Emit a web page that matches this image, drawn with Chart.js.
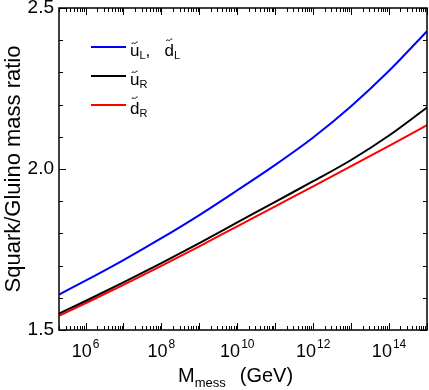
<!DOCTYPE html>
<html>
<head>
<meta charset="utf-8">
<script src="https://cdn.jsdelivr.net/npm/chart.js@4/dist/chart.umd.min.js"></script>
<style>
  html, body { margin: 0; padding: 0; background: #fff; }
  canvas { display: block; }
</style>
</head>
<body>
<canvas id="massChart" width="429" height="390"></canvas>
<script>
// messenger scale (GeV) and squark/gluino mass ratios
const mMess = [2e5, 1e6, 1e7, 1e8, 1e9, 1e10, 1e11, 1e12, 1e13, 1e14, 1e15]
const uLdL = [1.610, 1.653, 1.717, 1.785, 1.857, 1.934, 2.013, 2.098, 2.195, 2.305, 2.428]
const uR = [1.551, 1.590, 1.648, 1.708, 1.770, 1.834, 1.898, 1.962, 2.028, 2.104, 2.191]
const dR = [1.544, 1.583, 1.640, 1.699, 1.760, 1.822, 1.884, 1.946, 2.009, 2.072, 2.136]

const xLabelExps = [6, 8, 10, 12, 14]
const yLabels = [1.5, 2.0, 2.5]

const FONT = '"Liberation Sans", Arial, sans-serif'

const series = [
  { parts: [['u', 'L'], ['d', 'L']], data: uLdL, color: '#0000ff' },
  { parts: [['u', 'R']], data: uR, color: '#000000' },
  { parts: [['d', 'R']], data: dR, color: '#ff0000' }
]

function drawTildeText (ctx, x, base, letter, sub) {
  ctx.font = '17px ' + FONT
  ctx.textAlign = 'left'
  ctx.fillText(letter, x, base)
  const w = ctx.measureText(letter).width
  const topY = letter === 'd' ? base - 13 : base - 10
  // tilde
  ctx.save()
  ctx.lineWidth = 1
  ctx.beginPath()
  const cx = x + w / 2
  ctx.moveTo(cx - 3, topY - 2)
  ctx.bezierCurveTo(cx - 1.5, topY - 5, cx - 0.5, topY - 1, cx + 1, topY - 3)
  ctx.bezierCurveTo(cx + 2, topY - 4.5, cx + 2.5, topY - 4, cx + 3, topY - 4)
  ctx.stroke()
  ctx.restore()
  ctx.font = '11px ' + FONT
  ctx.fillText(sub, x + w, base + 3)
  return x + w + ctx.measureText(sub).width
}

const axesPlugin = {
  id: 'axes',
  afterDraw (chart) {
    const { ctx, chartArea: a, scales: { x, y } } = chart
    ctx.save()
    ctx.strokeStyle = '#000'
    ctx.fillStyle = '#000'

    // ticks on all four sides, pointing inward
    ctx.lineWidth = 1
    ctx.beginPath()
    for (let d = 5; d <= 15; d++) {
      for (let m = 1; m <= 9; m++) {
        const v = m * Math.pow(10, d)
        if (v < x.min * 0.999 || v > x.max * 1.001) continue
        const px = Math.round(x.getPixelForValue(v)) + 0.5
        const len = m === 1 ? 7 : 4
        ctx.moveTo(px, a.bottom); ctx.lineTo(px, a.bottom - len)
        ctx.moveTo(px, a.top); ctx.lineTo(px, a.top + len)
      }
    }
    for (let i = 0; i <= 10; i++) {
      const py = Math.round(y.getPixelForValue(1.5 + i * 0.1)) + 0.5
      const len = i % 5 === 0 ? 7 : 4
      ctx.moveTo(a.left, py); ctx.lineTo(a.left + len, py)
      ctx.moveTo(a.right, py); ctx.lineTo(a.right - len, py)
    }
    ctx.stroke()

    ctx.lineWidth = 1.5
    ctx.strokeRect(a.left, a.top, a.right - a.left, a.bottom - a.top)

    // y tick labels
    ctx.font = '19px ' + FONT
    ctx.textAlign = 'right'
    ctx.textBaseline = 'middle'
    yLabels.forEach((v) => {
      ctx.fillText(v.toFixed(1), a.left - 5, y.getPixelForValue(v))
    })

    // x tick labels 10^n
    ctx.textBaseline = 'alphabetic'
    ctx.textAlign = 'left'
    xLabelExps.forEach((e) => {
      const px = x.getPixelForValue(Math.pow(10, e))
      ctx.font = '18px ' + FONT
      const wb = ctx.measureText('10').width
      ctx.font = '12px ' + FONT
      const ws = ctx.measureText(String(e)).width
      const x0 = px - (wb + ws + 1) / 2
      ctx.font = '18px ' + FONT
      ctx.fillText('10', x0, 357)
      ctx.font = '12px ' + FONT
      ctx.fillText(String(e), x0 + wb + 1, 348)
    })

    // x axis title
    ctx.font = '20px ' + FONT
    ctx.fillText('M', 178, 382)
    let cx = 178 + ctx.measureText('M').width
    ctx.font = '13px ' + FONT
    ctx.fillText('mess', cx, 387)
    cx += ctx.measureText('mess').width + 14
    ctx.font = '20px ' + FONT
    ctx.fillText('(GeV)', cx, 382)

    // y axis title
    ctx.save()
    ctx.translate(20, (a.top + a.bottom) / 2)
    ctx.rotate(-Math.PI / 2)
    ctx.textAlign = 'center'
    ctx.font = '22px ' + FONT
    ctx.fillText('Squark/Gluino mass ratio', 0, 0)
    ctx.restore()

    // legend
    series.forEach((s, i) => {
      const ly = 47 + i * 29
      ctx.strokeStyle = s.color
      ctx.lineWidth = 2
      ctx.beginPath()
      ctx.moveTo(91, ly)
      ctx.lineTo(126, ly)
      ctx.stroke()
      ctx.strokeStyle = '#000'
      let tx = 130
      s.parts.forEach((p, j) => {
        tx = drawTildeText(ctx, tx, ly + 9, p[0], p[1])
        if (j < s.parts.length - 1) {
          ctx.font = '17px ' + FONT
          ctx.fillText(',', tx, ly + 9)
          tx += 19
        }
      })
    })
    ctx.restore()
  }
}

const ctx = document.getElementById('massChart').getContext('2d')

const massChart = new Chart(ctx, {
  type: 'line',
  data: {
    datasets: series.map((s) => ({
      data: mMess.map((m, i) => ({ x: m, y: s.data[i] })),
      borderColor: s.color,
      borderWidth: 2,
      pointRadius: 0,
      fill: false,
      cubicInterpolationMode: 'monotone'
    }))
  },
  options: {
    responsive: false,
    animation: false,
    devicePixelRatio: 1,
    layout: { padding: { left: 59, right: 2, top: 8, bottom: 60 } },
    scales: {
      x: { type: 'logarithmic', min: 2e5, max: 1e15, display: false },
      y: { type: 'linear', min: 1.5, max: 2.5, display: false }
    },
    plugins: {
      legend: { display: false },
      tooltip: { enabled: false }
    }
  },
  plugins: [axesPlugin]
})
</script>
</body>
</html>
